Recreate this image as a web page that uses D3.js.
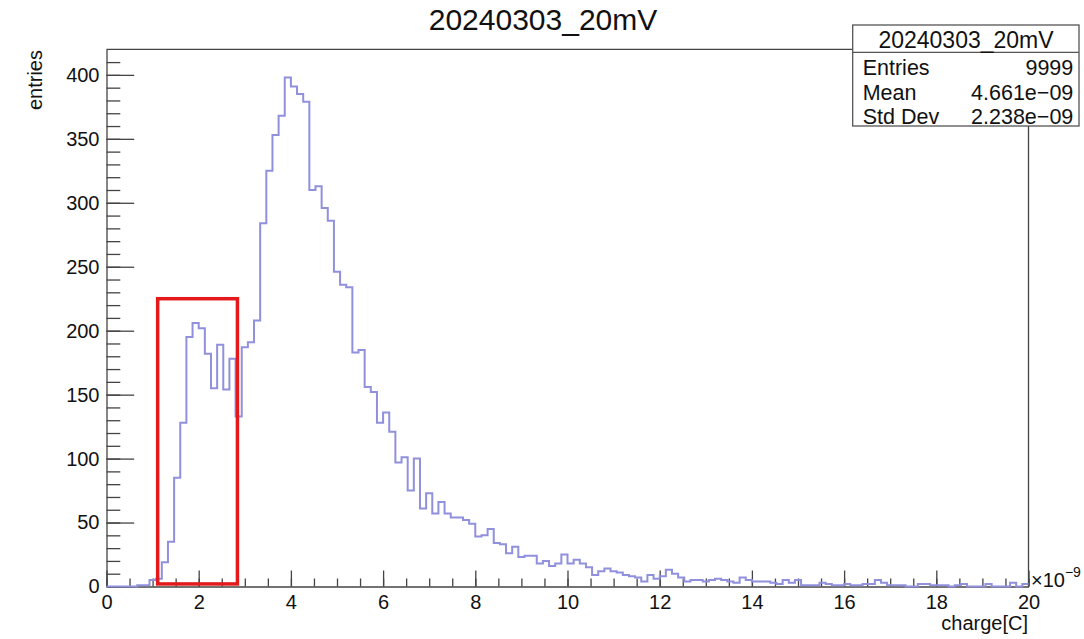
<!DOCTYPE html>
<html>
<head>
<meta charset="utf-8">
<script src="https://cdn.jsdelivr.net/npm/d3@7"></script>
<style>
	body { margin: 0; background: #fff; }
	svg { display: block; font-family: "Liberation Sans", Arial, sans-serif; }
	.axis path { stroke: #444; stroke-width: 1.3; }
	.axis line { stroke: #444; stroke-width: 1.3; }
	.axis text { font-size: 20px; fill: #111; font-family: "Liberation Sans", Arial, sans-serif; }
</style>
</head>
<body>
<div id="chart"></div>
<script>
// histogram of charge, 150 bins from 0 to 20 (x 1e-9 C)
var title = "20240303_20mV";
var xMin = 0, xMax = 20, nBins = 150;
var counts = [
	0, 0, 0, 0, 0, 1, 1, 5, 6, 19,
	35, 85, 128, 195, 206, 202, 182, 155, 189, 154,
	178, 133, 187, 191, 208, 284, 325, 353, 368, 398,
	391, 385, 379, 310, 313, 296, 286, 246, 236, 234,
	183, 185, 156, 152, 128, 136, 121, 97, 101, 75,
	100, 61, 73, 57, 66, 57, 54, 54, 52, 49,
	39, 40, 45, 34, 33, 26, 31, 23, 24, 24,
	18, 20, 16, 18, 25, 18, 21, 18, 15, 9,
	12, 14, 12, 11, 9, 8, 7, 4, 9, 6,
	8, 13, 10, 7, 4, 5, 5, 4, 5, 6,
	5, 4, 3, 7, 5, 4, 4, 4, 3, 2,
	5, 3, 5, 1, 1, 1, 3, 2, 1, 1,
	2, 1, 1, 2, 2, 5, 3, 1, 1, 1,
	0, 0, 2, 2, 1, 1, 1, 0, 1, 2,
	0, 0, 0, 2, 0, 0, 0, 3, 0, 2
];
var statLabels = ["Entries", "Mean", "Std Dev"];
var statValues = ["9999", "4.661e\u221209", "2.238e\u221209"];
var xTicks = [0, 2, 4, 6, 8, 10, 12, 14, 16, 18, 20];
var yTicks = [0, 50, 100, 150, 200, 250, 300, 350, 400];
// highlighted region (data units)
var boxX = [1.11, 2.84];
var boxY = [2, 225];

var width = 1084, height = 639;
var padL = 106.5, padR = 1028.5, padT = 49.3, padB = 586.5;

var svg = d3.select("#chart").append("svg")
	.attr("width", width)
	.attr("height", height);

var x = d3.scaleLinear().domain([xMin, xMax]).range([padL, padR]);
var y = d3.scaleLinear().domain([0, 420]).range([padB, padT]);

var binW = (xMax - xMin) / nBins;
var pts = counts.map(function(c, i) { return [xMin + i * binW, c]; });
pts.push([xMax, counts[counts.length - 1]]);

// minor ticks
svg.append("g").attr("class", "axis")
	.attr("transform", "translate(0," + padB + ")")
	.call(d3.axisBottom(x).tickValues(d3.range(0, 20.01, 0.5)).tickSize(-8).tickFormat(""))
	.select(".domain").remove();
svg.append("g").attr("class", "axis")
	.attr("transform", "translate(" + padL + ",0)")
	.call(d3.axisLeft(y).tickValues(d3.range(0, 411, 10)).tickSize(-13.8).tickFormat(""))
	.select(".domain").remove();

// major ticks with labels
svg.append("g").attr("class", "axis")
	.attr("transform", "translate(0," + padB + ")")
	.call(d3.axisBottom(x).tickValues(xTicks).tickSize(-16).tickPadding(7).tickSizeOuter(0))
	.selectAll("text").attr("dy", "0.75em");
svg.append("g").attr("class", "axis")
	.attr("transform", "translate(" + padL + ",0)")
	.call(d3.axisLeft(y).tickValues(yTicks).tickSize(-27.7).tickPadding(7).tickSizeOuter(0));

// frame: top and right
svg.append("path")
	.attr("d", "M" + padL + "," + padT + "H" + padR + "V" + padB)
	.attr("fill", "none")
	.attr("stroke", "#444")
	.attr("stroke-width", 1.3);

// histogram outline
var line = d3.line()
	.x(function(d) { return x(d[0]); })
	.y(function(d) { return y(d[1]); })
	.curve(d3.curveStepAfter);

svg.append("path")
	.datum(pts)
	.attr("d", line)
	.attr("fill", "none")
	.attr("stroke", "#9090dd")
	.attr("stroke-width", 2);

// red box
svg.append("rect")
	.attr("x", x(boxX[0]))
	.attr("y", y(boxY[1]))
	.attr("width", x(boxX[1]) - x(boxX[0]))
	.attr("height", y(boxY[0]) - y(boxY[1]))
	.attr("fill", "none")
	.attr("stroke", "#e3191c")
	.attr("stroke-width", 3.5);

// title
svg.append("text")
	.attr("x", 543)
	.attr("y", 30)
	.attr("text-anchor", "middle")
	.style("font-size", "30px")
	.style("fill", "#111")
	.text(title);

// axis titles
svg.append("text")
	.attr("transform", "translate(42,50) rotate(-90)")
	.attr("text-anchor", "end")
	.style("font-size", "20px")
	.style("fill", "#111")
	.text("entries");

svg.append("text")
	.attr("x", 1028)
	.attr("y", 630)
	.attr("text-anchor", "end")
	.style("font-size", "20px")
	.style("fill", "#111")
	.text("charge[C]");

var mult = svg.append("text")
	.attr("x", 1031)
	.attr("y", 587)
	.style("font-size", "20px")
	.style("fill", "#111");
mult.append("tspan").text("\u00d710");
mult.append("tspan").attr("dy", -10).style("font-size", "14px").text("\u22129");

// stats box
var sb = svg.append("g");
sb.append("rect")
	.attr("x", 852.7).attr("y", 25)
	.attr("width", 1079 - 852.7).attr("height", 126 - 25)
	.attr("fill", "#fff")
	.attr("stroke", "#555")
	.attr("stroke-width", 1.3);
sb.append("line")
	.attr("x1", 852.7).attr("x2", 1079)
	.attr("y1", 52.3).attr("y2", 52.3)
	.attr("stroke", "#555")
	.attr("stroke-width", 1.3);
sb.append("text")
	.attr("x", 966).attr("y", 48.3)
	.attr("text-anchor", "middle")
	.style("font-size", "23px")
	.style("fill", "#111")
	.text(title);
sb.selectAll(".slabel")
	.data(statLabels)
	.enter()
	.append("text")
	.attr("class", "slabel")
	.attr("x", 862.7)
	.attr("y", function(d, i) { return 75 + i * 24.5; })
	.style("font-size", "21.5px")
	.style("fill", "#111")
	.text(function(d) { return d; });
sb.selectAll(".svalue")
	.data(statValues)
	.enter()
	.append("text")
	.attr("class", "svalue")
	.attr("x", 1073.3)
	.attr("y", function(d, i) { return 75 + i * 24.5; })
	.attr("text-anchor", "end")
	.style("font-size", "21.5px")
	.style("fill", "#111")
	.text(function(d) { return d; });
</script>
</body>
</html>
